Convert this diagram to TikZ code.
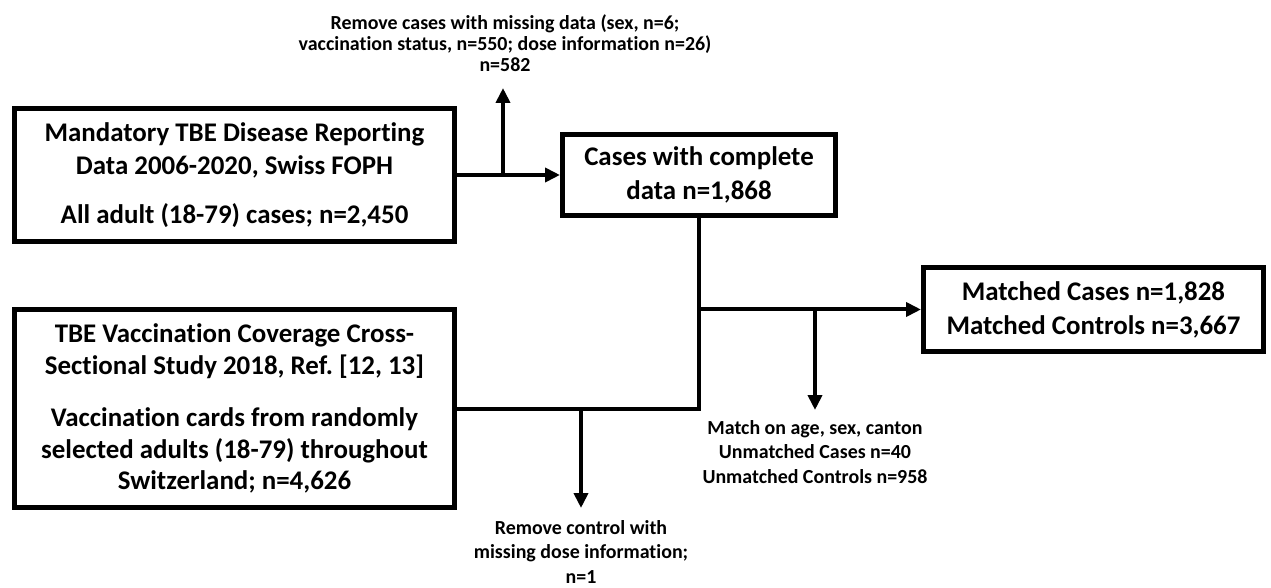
\documentclass[tikz,border=0pt]{standalone}
\usepackage{fontspec}
\setmainfont{Carlito}[Ligatures={NoCommon,NoRequired,NoContextual},Contextuals=NoAlternate]
\usepackage{tikz}
\usetikzlibrary{arrows.meta,positioning,calc}
\frenchspacing
\tikzset{
  box/.style={draw,line width=5bp,align=center,inner sep=0pt,font=\bfseries\fontsize{27}{34}\selectfont},
  note/.style={align=center,inner sep=0pt,font=\bfseries\fontsize{20}{25}\selectfont},
  conn/.style={line width=4bp},
  arr/.style={conn,-{Triangle[length=15bp,width=14bp]}}
}
\begin{document}
\begin{tikzpicture}[x=1bp,y=-1bp]
\useasboundingbox (0,0) rectangle (1271,588);
\node[box,minimum width=440bp,minimum height=133bp] (A) at (234.5,175) {Mandatory TBE Disease Reporting\\ Data 2006-2020, Swiss FOPH\\[15bp] All adult (18-79) cases; n=2,450};
\node[box,minimum width=273bp,minimum height=81bp] (B) at (699,175) {Cases with complete\\ data n=1,868};
\node[box,minimum width=440bp,minimum height=198bp,font=\bfseries\fontsize{27}{32}\selectfont] (C) at (234.5,408.5) {TBE Vaccination Coverage Cross-\\ Sectional Study 2018, Ref. [12, 13]\\[20bp] Vaccination cards from randomly\\ selected adults (18-79) throughout\\ Switzerland; n=4,626};
\node[box,minimum width=340bp,minimum height=84bp] (D) at (1093.5,309.5) {Matched Cases n=1,828\\ Matched Controls n=3,667};
\node[note,font=\bfseries\fontsize{20}{21}\selectfont] (rmcases) at (505,43) {Remove cases with missing data (sex, n=6;\\ vaccination status, n=550; dose information n=26)\\ n=582};
\node[note] (match) at (815,452) {Match on age, sex, canton\\ Unmatched Cases n=40\\ Unmatched Controls n=958};
\node[note] (rmctrl) at (581,552) {Remove control with\\ missing dose information;\\ n=1};
\coordinate (up) at (503,88);
\coordinate (dnmatch) at (815,410);
\coordinate (dnctrl) at (581,508);
\draw[arr] (A) -- (B);
\draw[arr] (up |- A.east) -- (up);
\draw[conn] (C.east) -| (B.south);
\draw[arr] (B.south |- D.west) -- (D.west);
\draw[arr] (dnmatch |- D.west) -- (dnmatch);
\draw[arr] (dnctrl |- C.east) -- (dnctrl);
\end{tikzpicture}
\end{document}
